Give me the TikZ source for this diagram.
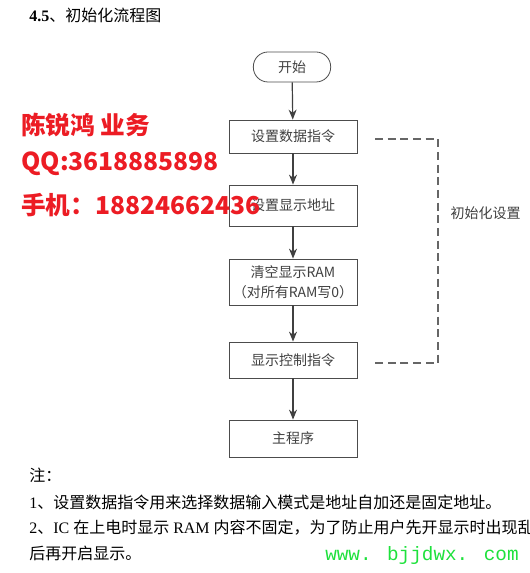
\documentclass[tikz,border=0pt]{standalone}
\usepackage{fontspec}
\setmainfont{Liberation Serif}
\newfontfamily\cjk{Noto Sans CJK SC}
\newfontfamily\webfont{Liberation Mono}
\usetikzlibrary{arrows.meta}
\definecolor{adred}{RGB}{236,28,36}
\definecolor{adgreen}{RGB}{30,225,60}

\begin{document}
\begin{tikzpicture}[x=0.75pt,y=-0.75pt,>={Stealth[length=7.5pt,width=6pt]},
  box/.style={draw=black!70,line width=0.6pt,minimum width=96pt,align=center,
    font=\cjk\fontsize{10.5}{15}\selectfont,text=black!75,inner sep=1pt},
  flow/.style={->,draw=black!75,line width=0.9pt},
  note/.style={anchor=west,font=\fontsize{12}{14}\selectfont,inner sep=0pt},
  ad/.style={anchor=west,text=adred,font=\cjk\bfseries\fontsize{18.5}{20}\selectfont,inner sep=0pt}]
\useasboundingbox (0,0) rectangle (529,573);
% title
\node[note,font=\fontsize{12}{14}\selectfont] (title) at (29,15) {\textbf{4.5}{\cjk 、初始化流程图}};
% flow chart
\node[box,minimum width=58pt,minimum height=22.5pt,rounded corners=11pt] (start) at (292,67) {开始};
\node[box,minimum height=24.75pt] (setdata) at (293,136.5) {设置数据指令};
\node[box,minimum height=30.75pt] (setaddr) at (293,205.5) {设置显示地址};
\node[box,minimum height=34.5pt] (clrram) at (293,282) {清空显示RAM\\（对所有RAM写0）};
\node[box,minimum height=27pt] (dispctl) at (293,360) {显示控制指令};
\node[box,minimum height=27.75pt] (mainprog) at (293,438.5) {主程序};
\draw[flow] (start) -- (setdata);
\draw[flow] (setdata) -- (setaddr);
\draw[flow] (setaddr) -- (clrram);
\draw[flow] (clrram) -- (dispctl);
\draw[flow] (dispctl) -- (mainprog);
% dashed bracket
\coordinate (dtop) at (375,139);
\coordinate (dbot) at (375,363);
\draw[draw=black!60,line width=1.1pt,dash pattern=on 6pt off 3.5pt] (dtop) -- ++(63,0) |- (dbot);
\node[anchor=west,font=\cjk\fontsize{10.5}{13}\selectfont,text=black!75] (initlbl) at (446,213) {初始化设置};
% red ad text
\node[ad] (adname) at (21,125) {陈锐鸿 业务};
\node[ad] (adqq) at (21,164) {QQ:3618885898};
\node[ad] (adtel) at (21,205) {手机：18824662436};
% notes
\node[note] (n0) at (29,475) {{\cjk 注：}};
\node[note] (n1) at (29,502) {1{\cjk 、设置数据指令用来选择数据输入模式是地址自加还是固定地址。}};
\node[note] (n2) at (29,528) {2{\cjk 、}IC {\cjk 在上电时显示} RAM {\cjk 内容不固定，为了防止用户先开显示时出现乱}};
\node[note] (n3) at (29,553) {{\cjk 后再开启显示。}};
\node[anchor=west,inner sep=0pt,text=adgreen,font=\webfont\fontsize{14.5}{17}\selectfont] (web) at (325,555) {www. bjjdwx. com};
\end{tikzpicture}
\end{document}
